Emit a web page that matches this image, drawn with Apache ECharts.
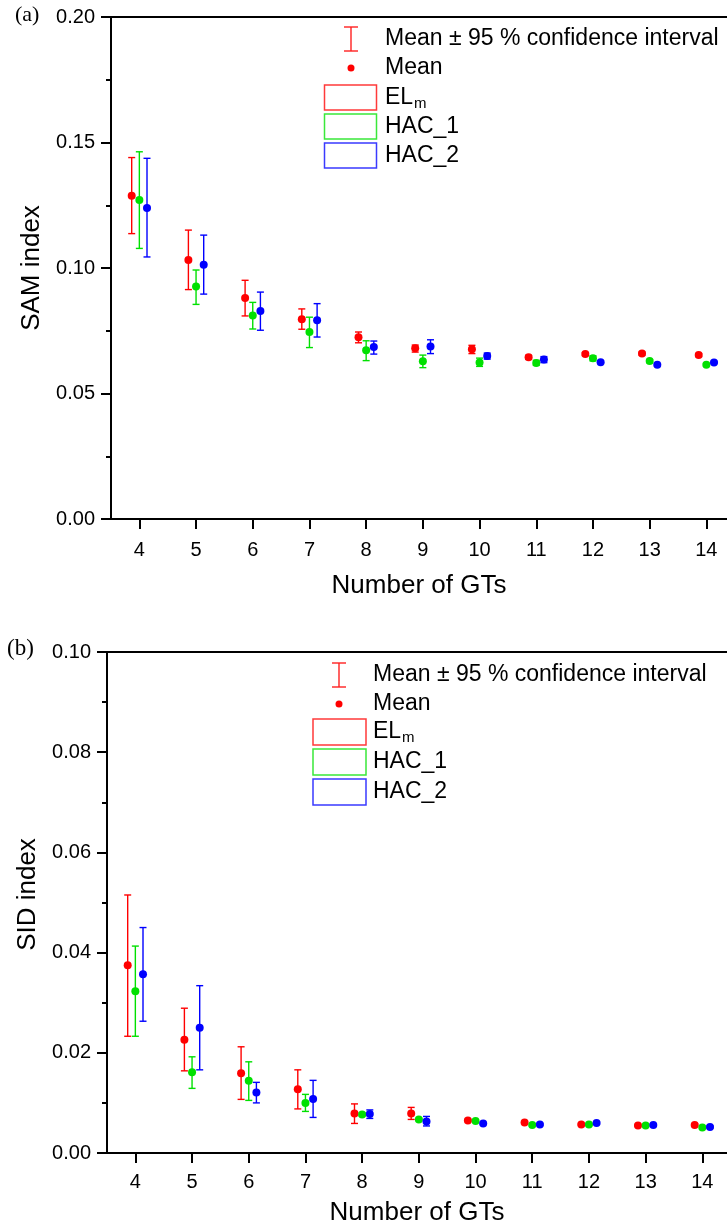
<!DOCTYPE html>
<html>
<head>
<meta charset="utf-8">
<script src="https://cdn.jsdelivr.net/npm/echarts@6/dist/echarts.min.js"></script>
<style>
html, body { margin: 0; padding: 0; background: #fff; }
#chart { width: 727px; height: 1230px; }
</style>
</head>
<body>
<div id="chart"></div>
<script>
const chart = echarts.init(document.getElementById('chart'));

// number of GTs
const gts = [4, 5, 6, 7, 8, 9, 10, 11, 12, 13, 14];

// (a) SAM index: mean and 95 % confidence limits
const samElmMean  = [0.1288, 0.1032, 0.0880, 0.0796, 0.0724, 0.0680, 0.0676, 0.0644, 0.0657, 0.0659, 0.0653];
const samElmLow   = [0.1137, 0.0914, 0.0809, 0.0756, 0.0702, 0.0665, 0.0659, 0.0636, 0.0651, 0.0653, 0.0647];
const samElmHigh  = [0.1440, 0.1151, 0.0951, 0.0837, 0.0745, 0.0693, 0.0692, 0.0652, 0.0663, 0.0665, 0.0659];
const samHac1Mean = [0.1271, 0.0926, 0.0811, 0.0745, 0.0672, 0.0628, 0.0624, 0.0622, 0.0640, 0.0629, 0.0615];
const samHac1Low  = [0.1078, 0.0855, 0.0757, 0.0683, 0.0631, 0.0603, 0.0608, 0.0612, 0.0630, 0.0623, 0.0610];
const samHac1High = [0.1463, 0.0992, 0.0863, 0.0804, 0.0710, 0.0653, 0.0641, 0.0632, 0.0650, 0.0635, 0.0620];
const samHac2Mean = [0.1239, 0.1013, 0.0829, 0.0792, 0.0685, 0.0687, 0.0649, 0.0635, 0.0625, 0.0615, 0.0624];
const samHac2Low  = [0.1044, 0.0896, 0.0752, 0.0725, 0.0657, 0.0659, 0.0637, 0.0623, 0.0621, 0.0611, 0.0620];
const samHac2High = [0.1437, 0.1131, 0.0904, 0.0858, 0.0709, 0.0714, 0.0661, 0.0647, 0.0629, 0.0619, 0.0628];

// (b) SID index
const sidElmMean  = [0.0375, 0.0226, 0.0159, 0.0127, 0.0079, 0.0079, 0.0065, 0.0061, 0.0057, 0.0055, 0.0056];
const sidElmLow   = [0.0233, 0.0164, 0.0107, 0.0088, 0.0059, 0.0067, 0.0063, 0.0059, 0.0055, 0.0053, 0.0054];
const sidElmHigh  = [0.0515, 0.0289, 0.0212, 0.0166, 0.0098, 0.0091, 0.0067, 0.0063, 0.0059, 0.0057, 0.0058];
const sidHac1Mean = [0.0323, 0.0161, 0.0144, 0.0100, 0.0077, 0.0067, 0.0064, 0.0056, 0.0057, 0.0055, 0.0051];
const sidHac1Low  = [0.0233, 0.0129, 0.0105, 0.0083, 0.0074, 0.0065, 0.0062, 0.0054, 0.0055, 0.0053, 0.0049];
const sidHac1High = [0.0413, 0.0192, 0.0182, 0.0117, 0.0080, 0.0069, 0.0066, 0.0058, 0.0059, 0.0057, 0.0053];
const sidHac2Mean = [0.0357, 0.0250, 0.0121, 0.0108, 0.0078, 0.0063, 0.0059, 0.0057, 0.0060, 0.0056, 0.0052];
const sidHac2Low  = [0.0263, 0.0166, 0.0100, 0.0071, 0.0069, 0.0054, 0.0057, 0.0055, 0.0058, 0.0054, 0.0050];
const sidHac2High = [0.0450, 0.0334, 0.0141, 0.0145, 0.0086, 0.0073, 0.0061, 0.0059, 0.0062, 0.0058, 0.0054];

const colors = ['#ff0000', '#00e000', '#0000ff'];
const boxColors = ['#ff3a3a', '#3ae83a', '#3a3aff'];
const offsets = [-0.135, 0, 0.135];
const font = '"Liberation Sans", Arial, sans-serif';

function errorBars(color) {
    return function (params, api) {
        const x = api.value(0);
        const hi = api.coord([x, api.value(2)]);
        const lo = api.coord([x, api.value(1)]);
        const style = { stroke: color, lineWidth: 1.4 };
        return {
            type: 'group',
            children: [
                { type: 'line', shape: { x1: hi[0], y1: hi[1], x2: lo[0], y2: lo[1] }, style: style },
                { type: 'line', shape: { x1: hi[0] - 3.5, y1: hi[1], x2: hi[0] + 3.5, y2: hi[1] }, style: style },
                { type: 'line', shape: { x1: lo[0] - 3.5, y1: lo[1], x2: lo[0] + 3.5, y2: lo[1] }, style: style }
            ]
        };
    };
}

function panelSeries(xi, yi, means, lows, highs) {
    const out = [];
    means.forEach((mean, k) => {
        out.push({
            type: 'custom',
            xAxisIndex: xi,
            yAxisIndex: yi,
            silent: true,
            z: 2,
            renderItem: errorBars(colors[k]),
            encode: { x: 0, y: [1, 2] },
            data: gts.map((g, i) => [g + offsets[k], lows[k][i], highs[k][i]])
        });
        out.push({
            type: 'scatter',
            xAxisIndex: xi,
            yAxisIndex: yi,
            z: 3,
            symbolSize: 8,
            itemStyle: { color: colors[k], opacity: 1 },
            data: gts.map((g, i) => [g + offsets[k], mean[i]])
        });
    });
    return out;
}

function bottomAxis(grid, max, margin, gap) {
    return {
        type: 'value',
        gridIndex: grid,
        position: 'bottom',
        min: 3.5,
        max: max,
        splitLine: { show: false },
        axisLine: { show: true, onZero: false, lineStyle: { color: '#000', width: 2 } },
        axisTick: { show: true, customValues: gts, length: 10, lineStyle: { color: '#000', width: 2 } },
        axisLabel: { customValues: gts, margin: margin, fontSize: 20, color: '#000', fontFamily: font },
        name: 'Number of GTs',
        nameLocation: 'middle',
        nameGap: gap,
        nameTextStyle: { fontSize: 26, color: '#000', fontFamily: font }
    };
}

function topAxis(grid, max) {
    return {
        type: 'value',
        gridIndex: grid,
        position: 'top',
        min: 3.5,
        max: max,
        splitLine: { show: false },
        axisLine: { show: true, onZero: false, lineStyle: { color: '#000', width: 2 } },
        axisTick: { show: false },
        axisLabel: { show: false }
    };
}

function leftAxis(grid, max, interval, name, gap, pad) {
    return {
        type: 'value',
        gridIndex: grid,
        min: 0,
        max: max,
        interval: interval,
        splitLine: { show: false },
        axisLine: { show: true, onZero: false, lineStyle: { color: '#000', width: 2 } },
        axisTick: { show: true, length: 10, lineStyle: { color: '#000', width: 2 } },
        minorTick: { show: true, splitNumber: 2, length: 5, lineStyle: { color: '#000', width: 2 } },
        axisLabel: { margin: 16, fontSize: 20, color: '#000', fontFamily: font, formatter: v => v.toFixed(2) },
        name: name,
        nameLocation: 'middle',
        nameGap: gap,
        nameTextStyle: { fontSize: 26, color: '#000', fontFamily: font, padding: pad }
    };
}

function legend(x0, top, boxX, boxW, boxTops, boxH) {
    const txt = (text, x, y, size) => ({
        type: 'text', x: x, y: y,
        style: { text: text, font: size + 'px ' + font, fill: '#000', verticalAlign: 'middle' }
    });
    const ls = { stroke: '#ff2020', lineWidth: 1.4 };
    const items = [
        { type: 'line', shape: { x1: x0, y1: top, x2: x0, y2: top + 24 }, style: ls },
        { type: 'line', shape: { x1: x0 - 7, y1: top, x2: x0 + 7, y2: top }, style: ls },
        { type: 'line', shape: { x1: x0 - 7, y1: top + 24, x2: x0 + 7, y2: top + 24 }, style: ls },
        txt('Mean \u00b1 95 % confidence interval', x0 + 34, top + 12, 23),
        { type: 'circle', shape: { cx: x0, cy: top + 41, r: 3.5 }, style: { fill: '#ff0000' } },
        txt('Mean', x0 + 34, top + 41, 23)
    ];
    const names = ['EL', 'HAC_1', 'HAC_2'];
    boxTops.forEach((bt, k) => {
        items.push({ type: 'rect', shape: { x: boxX, y: bt, width: boxW, height: boxH },
            style: { fill: 'none', stroke: boxColors[k], lineWidth: 1.5 } });
        items.push(txt(names[k], x0 + 34, bt + boxH / 2, 23));
    });
    items.push(txt('m', x0 + 34 + 29, boxTops[0] + boxH / 2 + 6, 15));
    return items;
}

const samMeans = [samElmMean, samHac1Mean, samHac2Mean];
const samLows = [samElmLow, samHac1Low, samHac2Low];
const samHighs = [samElmHigh, samHac1High, samHac2High];
const sidMeans = [sidElmMean, sidHac1Mean, sidHac2Mean];
const sidLows = [sidElmLow, sidHac1Low, sidHac2Low];
const sidHighs = [sidElmHigh, sidHac1High, sidHac2High];

chart.setOption({
    animation: false,
    backgroundColor: '#fff',
    grid: [
        { left: 111, top: 17, width: 616, height: 502 },
        { left: 107, top: 652, width: 620, height: 501 }
    ],
    xAxis: [
        bottomAxis(0, 14.364, 21, 54),
        topAxis(0, 14.364),
        bottomAxis(1, 14.435, 19, 47),
        topAxis(1, 14.435)
    ],
    yAxis: [
        leftAxis(0, 0.2, 0.05, 'SAM index', 64, [0, 0, 0, 0]),
        leftAxis(1, 0.1, 0.02, 'SID index', 62, [0, 0, 0, 16])
    ],
    graphic: [
        { type: 'text', x: 15, y: 15, style: { text: '(a)', font: '22px "Liberation Serif", serif', fill: '#000', verticalAlign: 'middle' } },
        { type: 'text', x: 7, y: 649, style: { text: '(b)', font: '23px "Liberation Serif", serif', fill: '#000', verticalAlign: 'middle' } }
    ].concat(
        legend(351, 27, 324.5, 52, [85, 114, 143], 25),
        legend(339, 663, 313, 53, [719, 749, 779], 26)
    ),
    series: panelSeries(0, 0, samMeans, samLows, samHighs)
        .concat(panelSeries(2, 1, sidMeans, sidLows, sidHighs))
});
</script>
</body>
</html>
